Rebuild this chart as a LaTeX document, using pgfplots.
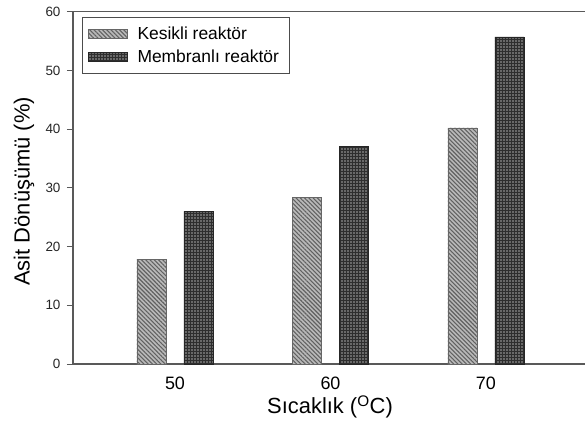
\documentclass[border=0pt]{standalone}
\usepackage{fontspec}
\setmainfont{Liberation Sans}
\usepackage{pgfplots}
\pgfplotsset{compat=1.18}
\usetikzlibrary{patterns.meta}
\begin{document}
\begin{tikzpicture}
\begin{axis}[
  scale only axis,
  width=512bp, height=352.3bp,
  xmin=43.44, xmax=76.37,
  ymin=0, ymax=60,
  ybar,
  axis x line=box, axis y line=left,
  axis line style={-, draw=black!65, line width=1.1bp},
  xtick={50,60,70},
  xtick pos=bottom, xticklabel pos=bottom,
  ytick={0,10,20,30,40,50,60},
  ytick pos=left,
  tick align=outside,
  major tick length=6bp,
  xtick style={draw=none},
  ytick style={draw=black!65, line width=1bp},
  /pgf/number format/assume math mode=true,
  xticklabel style={font=\fontsize{18}{20}\selectfont, anchor=center, yshift=-13bp},
  yticklabel style={font=\fontsize{13.5}{15}\selectfont, xshift=-3bp, text=black!85},
  xlabel={Sıcaklık (\textsuperscript{O}C)},
  ylabel={Asit Dönüşümü (\%)},
  xlabel style={at={(axis description cs:0.502,0)}, anchor=center, yshift=-43bp, font=\fontsize{22}{24}\selectfont},
  ylabel style={at={(axis description cs:-0.0957,0.49)}, anchor=center, font=\fontsize{22}{24}\selectfont},
  legend style={at={(axis description cs:0.0176,0.985)}, anchor=north west, draw=black!70, line width=0.8bp, font=\fontsize{17.5}{19}\selectfont, inner xsep=6bp, inner ysep=7bp, row sep=4bp, nodes={inner xsep=4.5bp, inner ysep=2.5bp}, /tikz/every odd column/.append style={column sep=5bp}},
  legend cell align=left,
  legend image code/.code={\draw[#1, line width=0.6bp] (0bp,-4.5bp) rectangle (39bp,4.5bp);},
]
\addplot[ybar, bar width=29bp, bar shift=-23.5bp, draw=black!60, line width=0.8bp, fill=gray!55,
  postaction={pattern={Lines[angle=-45,distance=3bp,line width=1.1bp]}, pattern color=black!62}]
  coordinates {(50,17.8) (60,28.4) (70,40.2)};
\addlegendentry{Kesikli reaktör}
\addplot[ybar, bar width=29bp, bar shift=23.5bp, draw=black!85, line width=0.8bp, fill=black!82,
  postaction={pattern={Dots[distance=3bp,radius=0.8bp]}, pattern color=gray!70}]
  coordinates {(50,26.0) (60,37.1) (70,55.7)};
\addlegendentry{Membranlı reaktör}
\coordinate (O) at (rel axis cs:0,0);
\end{axis}
\pgfresetboundingbox
\path[use as bounding box] ([xshift=-73bp,yshift=-64bp]O) rectangle ([xshift=512bp,yshift=364bp]O);
\end{tikzpicture}
\end{document}
